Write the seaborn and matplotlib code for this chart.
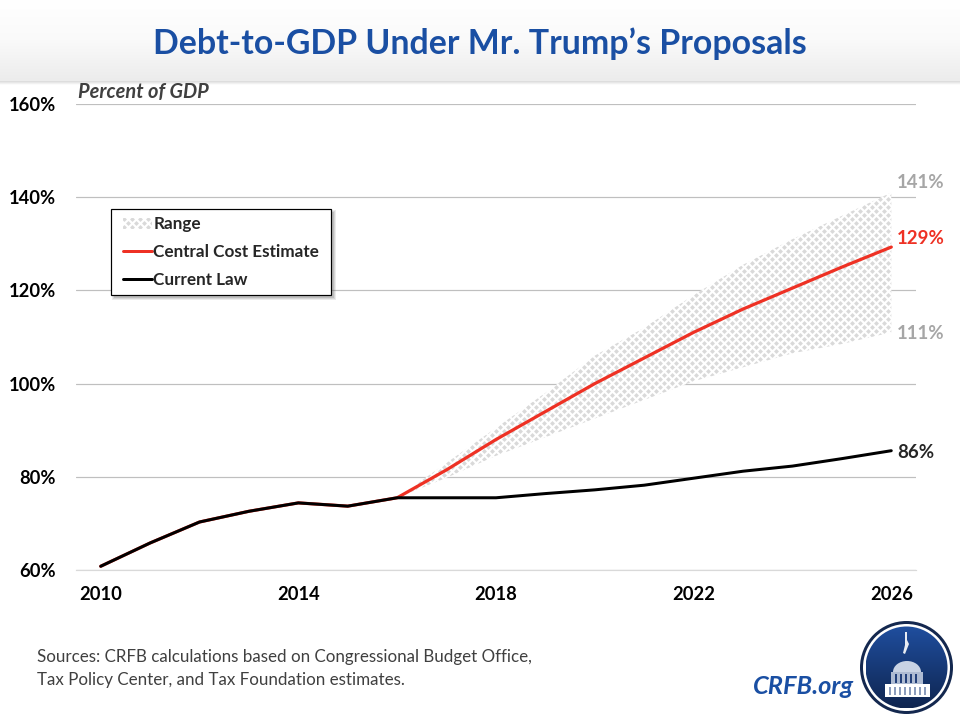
import seaborn as sb
import matplotlib
matplotlib.use('Agg')
import matplotlib.pyplot as plt
import matplotlib.hatch as mhatch
from matplotlib.colors import LinearSegmentedColormap
from matplotlib.lines import Line2D
from matplotlib.patches import Circle, Ellipse, Patch, Polygon, Rectangle
from matplotlib.path import Path
from matplotlib.transforms import IdentityTransform
import numpy as np
import pandas as pd

years = list(range(2010, 2027))
current_law = [60.8, 65.8, 70.3, 72.6, 74.4, 73.7, 75.5, 75.5, 75.5, 76.4, 77.2, 78.2, 79.7, 81.2, 82.3, 83.9, 85.6]
central = [60.8, 65.8, 70.3, 72.6, 74.4, 73.7, 75.5, 81.5, 88.0, 94.0, 100.0, 105.5, 111.0, 116.0, 120.5, 125.0, 129.3]
range_years = list(range(2016, 2027))
range_high = [75.5, 83.0, 90.5, 98.0, 106.0, 112.0, 119.0, 125.5, 131.0, 136.0, 141.0]
range_low = [75.5, 79.8, 84.5, 88.5, 92.5, 96.5, 100.5, 103.5, 106.5, 108.5, 111.0]
y_ticks = [60, 80, 100, 120, 140, 160]
x_labels = [2010, 2014, 2018, 2022, 2026]
x_minor = [2011.5, 2015.5, 2019.5, 2023.5]

BLUE = '#1A4FA3'
RED = '#EE3124'
GRAY = '#A6A6A6'
DOT = '#D9D9D9'
TEXT = '#404040'


# diamond pattern for the range, takes over the '*' hatch (96 px tile, 8 px pitch)
class DiamondHatch(mhatch.HatchPatternBase):
    def __init__(self, hatch, density):
        self.num_vertices = 25 * 13 * 5 if '*' in hatch else 0

    def set_vertices_and_codes(self, vertices, codes):
        step = 1 / 12
        half = 2.45 / 96
        shift = 0.5 / 96  # sit on pixel centres so the diamonds stay crisp
        i = 0
        for row in range(25):
            for col in range(13):
                cx = (col + 0.5 * (row % 2)) * step + shift
                cy = row * step / 2 + shift
                vertices[i:i + 5] = [(cx - half, cy), (cx, cy + half), (cx + half, cy),
                                     (cx, cy - half), (cx - half, cy)]
                codes[i:i + 5] = [Path.MOVETO, Path.LINETO, Path.LINETO, Path.LINETO, Path.CLOSEPOLY]
                i += 5


mhatch._hatch_types = [DiamondHatch]

sb.set_style('white')
plt.rcParams['font.family'] = ['Lato', 'DejaVu Sans']
plt.rcParams['hatch.linewidth'] = 0.01

fig = plt.figure(figsize=(10, 7.5), dpi=96, facecolor='white')

# header band and logo live on a pixel-sized background axes
bg = fig.add_axes([0, 0, 1, 1], zorder=0)
band = LinearSegmentedColormap.from_list('band', ['#FFFFFF', '#FAFAFA', '#ECECEC'])
bg.imshow(np.linspace(0, 1, 100).reshape(-1, 1), extent=(0, 960, 81, 0), cmap=band, aspect='auto')
shade = LinearSegmentedColormap.from_list('shade', ['#DADADA', '#FFFFFF'])
bg.imshow(np.linspace(0, 1, 10).reshape(-1, 1), extent=(0, 960, 85, 81), cmap=shade, aspect='auto')

cx, cy = 906.5, 667.5
bg.add_patch(Circle((cx, cy), 46.5, fc='#14284F', ec='none', zorder=1))
bg.add_patch(Circle((cx, cy), 43.5, fc='white', ec='none', zorder=1.1))
navy = LinearSegmentedColormap.from_list('navy', ['#1F4E9E', '#0F2550'])
disc = bg.imshow(np.linspace(0, 1, 100).reshape(-1, 1), extent=(cx - 41, cx + 41, cy + 41, cy - 41),
                 cmap=navy, aspect='auto', zorder=1.2)
bg.set_xlim(0, 960)
bg.set_ylim(720, 0)
bg.axis('off')
disc.set_clip_path(Circle((cx, cy), 41, transform=bg.transData))
# capitol, roughly
bg.add_patch(Polygon([(905, 632), (907, 632), (907, 640), (909, 644), (905, 654), (903, 653), (905, 645)],
                     fc='#E8ECF3', ec='none', zorder=2))
bg.add_patch(Ellipse((907, 672), 28, 22, fc='#C9D3E4', ec='none', zorder=2))
bg.add_patch(Rectangle((891, 672), 32, 14, fc='#AEBBD2', ec='none', zorder=2))
bg.add_patch(Rectangle((885, 684), 45, 13, fc='white', ec='none', zorder=2))
for col_x in [895, 900, 905, 910, 915]:
    bg.add_patch(Rectangle((col_x, 674), 1.5, 9, fc='#23407A', ec='none', zorder=3))
for col_x in [889, 894, 899, 904, 909, 914, 919, 924]:
    bg.add_patch(Rectangle((col_x, 687), 1.5, 8, fc='#8C9DBD', ec='none', zorder=3))

fig.text(480, 720 - 44, 'Debt-to-GDP Under Mr. Trump\u2019s Proposals', transform=None, ha='center', va='center',
         color=BLUE, fontsize=25.4, fontweight='bold')

ax = fig.add_axes([76 / 960, 1 - 570 / 720, 840 / 960, 466 / 720], zorder=1)
ax.patch.set_alpha(0)

law_df = pd.DataFrame({'year': years, 'debt': current_law})
central_df = pd.DataFrame({'year': years, 'debt': central})
range_df = pd.DataFrame({'year': range_years, 'high': range_high, 'low': range_low})

ax.fill_between(range_df['year'], range_df['low'], range_df['high'], facecolor='white', edgecolor=DOT,
                hatch='*', linewidth=0, zorder=2)
sb.lineplot(x='year', y='debt', data=central_df, ax=ax, color=RED, linewidth=2.4, zorder=3, legend=False)
sb.lineplot(x='year', y='debt', data=law_df, ax=ax, color='black', linewidth=2.25, zorder=4, legend=False)

ax.set_xlim(2009.5, 2026.5)
ax.set_ylim(60, 160)
ax.set_xlabel('')
ax.set_ylabel('')
ax.set_xticks(x_labels)
ax.set_xticks(x_minor, minor=True)
ax.set_yticks(y_ticks)
ax.set_yticklabels([f'{v}%' for v in y_ticks])
ax.tick_params(axis='x', which='major', length=0, pad=12, labelsize=13.8, labelcolor='black')
ax.tick_params(axis='x', which='minor', direction='in', length=3.75, width=0.75, color='#D9D9D9')
ax.tick_params(axis='y', length=0, pad=15, labelsize=13.8, labelcolor='black')
for label in ax.get_xticklabels() + ax.get_yticklabels():
    label.set_fontweight('bold')
ax.yaxis.grid(True, color='#BFBFBF', linewidth=0.9, zorder=1)
ax.set_axisbelow(True)
sb.despine(ax=ax, left=True, top=True, right=True)
ax.spines['bottom'].set_color('#D9D9D9')
ax.spines['bottom'].set_linewidth(0.9)

# end labels
end_x = 2026.12
ax.text(end_x, range_high[-1] + 2.2, f'{range_high[-1]:.0f}%', color=GRAY, fontsize=14, fontweight='bold', va='center')
ax.text(end_x, central[-1] + 1.8, f'{central[-1]:.0f}%', color=RED, fontsize=14, fontweight='bold', va='center')
ax.text(end_x, range_low[-1] - 0.2, f'{range_low[-1]:.0f}%', color=GRAY, fontsize=14, fontweight='bold', va='center')
ax.text(end_x, current_law[-1] - 0.3, f'{current_law[-1]:.0f}%', color='#262626', fontsize=14, fontweight='bold', va='center')

fig.text(78, 720 - 92, 'Percent of GDP', transform=None, color=TEXT, fontsize=15, fontweight='bold',
         fontstyle='italic', va='center')

# legend box with a soft shadow, in pixels
px = IdentityTransform()
for grow, alpha in [(2, 0.12), (1, 0.15), (0, 0.2)]:
    ax.add_patch(Rectangle((111 + 3 - grow, 720 - 295 - 3 - grow), 220 + 2 * grow, 86 + 2 * grow, transform=px,
                           fc='#606060', ec='none', alpha=alpha, zorder=5, clip_on=False))
ax.add_patch(Rectangle((111, 720 - 295), 220, 86, transform=px, fc='white', ec='black', linewidth=0.9,
                       zorder=5.5, clip_on=False))

handles = [Patch(facecolor='white', edgecolor=DOT, hatch='*', linewidth=0, label='Range'),
           Line2D([0], [0], color=RED, linewidth=2.25, label='Central Cost Estimate'),
           Line2D([0], [0], color='black', linewidth=2.25, label='Current Law')]
leg = ax.legend(handles=handles, loc='upper left', bbox_to_anchor=(123 / 960, 1 - 216.5 / 720),
                bbox_transform=fig.transFigure, borderaxespad=0, borderpad=0, frameon=False,
                prop={'size': 12.85, 'weight': 'bold'}, handlelength=1.68,
                handletextpad=0.08, labelspacing=0.7)
leg.set_zorder(6)

fig.text(37, 720 - 657, 'Sources: CRFB calculations based on Congressional Budget Office,', transform=None,
         color=TEXT, fontsize=12.75, va='center')
fig.text(37, 720 - 680, 'Tax Policy Center, and Tax Foundation estimates.', transform=None,
         color=TEXT, fontsize=12.75, va='center')
fig.text(753, 720 - 686, 'CRFB.org', transform=None, color=BLUE, fontsize=19, fontweight='bold',
         fontstyle='italic', va='center')

fig.savefig('out.png', dpi=96)
